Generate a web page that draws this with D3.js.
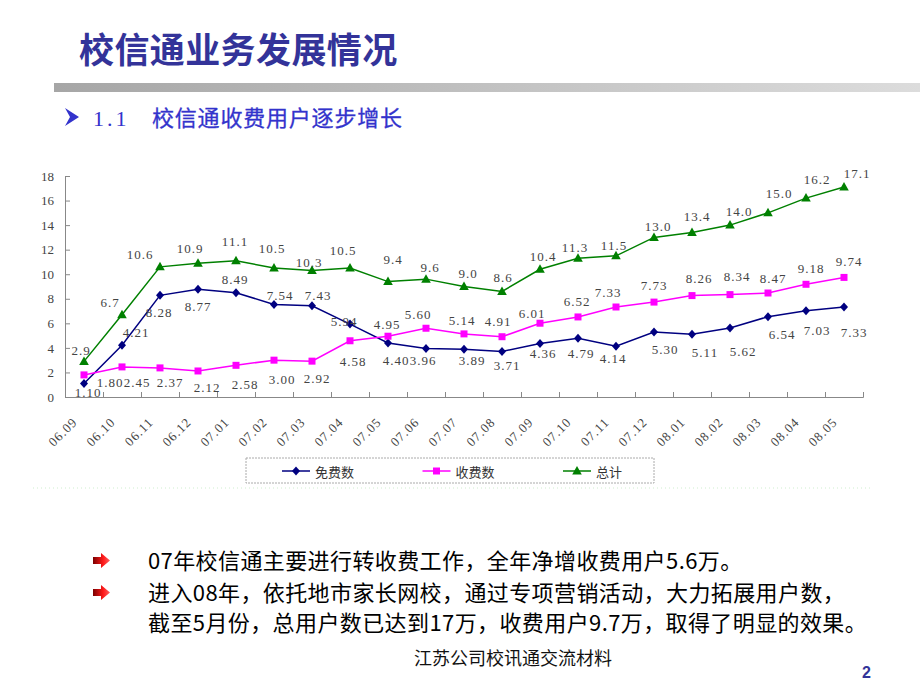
<!DOCTYPE html>
<html><head><meta charset="utf-8">
<script src="https://cdn.jsdelivr.net/npm/d3@7"></script>
<style>body{margin:0;background:#fff} svg{display:block}</style>
</head><body>
<svg id="c" width="920" height="690"></svg>
<script>
// ---------- data ----------
const categories = ["06.09","06.10","06.11","06.12","07.01","07.02","07.03","07.04","07.05","07.06","07.07","07.08","07.09","07.10","07.11","07.12","08.01","08.02","08.03","08.04","08.05"];
const freeUsers  = [1.10,4.21,8.28,8.77,8.49,7.54,7.43,5.94,4.40,3.96,3.89,3.71,4.36,4.79,4.14,5.30,5.11,5.62,6.54,7.03,7.33];
const paidUsers  = [1.80,2.45,2.37,2.12,2.58,3.00,2.92,4.58,4.95,5.60,5.14,4.91,6.01,6.52,7.33,7.73,8.26,8.34,8.47,9.18,9.74];
const totalUsers = [2.9,6.7,10.6,10.9,11.1,10.5,10.3,10.5,9.4,9.6,9.0,8.6,10.4,11.3,11.5,13.0,13.4,14.0,15.0,16.2,17.1];
const yTicks = [0,2,4,6,8,10,12,14,16,18];
const seriesNames = ["免费数","收费数","总计"];

const titleText = "校信通业务发展情况";
const subtitleNum = "1.1";
const subtitleText = "校信通收费用户逐步增长";
const bulletLines = [
  ["07年校信通主要进行转收费工作，全年净增收费用户5.6万。"],
  ["进入08年，依托地市家长网校，通过专项营销活动，大力拓展用户数，","截至5月份，总用户数已达到17万，收费用户9.7万，取得了明显的效果。"]
];
const footerText = "江苏公司校讯通交流材料";
const pageNum = "2";

// ---------- label layout (offsets of value labels from their points) ----------
const freeLabelOffsets  = [[4,9],[14,-13],[-1,17],[0,17],[-1,-13],[6,-9],[6,-10],[-6,-3],[8,18],[-3,12],[8,11],[5,14],[3,10],[3,15],[-3,12],[11,18],[13,18],[13,24],[14,18],[11,20],[10,25]];
const paidLabelOffsets  = [[26,8],[15,16],[10,15],[9,17],[9,19],[8,19],[5,17],[3,21],[-1,-12],[-8,-14],[-2,-13],[-4,-15],[-8,-10],[-1,-15],[-8,-15],[0,-17],[7,-17],[7,-18],[5,-15],[5,-16],[5,-16]];
const totalLabelOffsets = [[-3,-11],[-12,-12],[-20,-12],[-8,-15],[-1,-19],[-2,-20],[-3,-8],[-7,-18],[5,-22],[4,-12],[4,-13],[1,-14],[3,-13],[-3,-11],[-2,-10],[4,-11],[5,-16],[9,-14],[11,-19],[11,-19],[13,-14]];

// ---------- drawing ----------
const svg = d3.select("#c");
svg.append("rect").attr("width",920).attr("height",690).attr("fill","#fff");
const defs = svg.append("defs");
const g1 = defs.append("linearGradient").attr("id","bar").attr("x1","0").attr("x2","1");
g1.append("stop").attr("offset","0").attr("stop-color","#a6a6a6");
g1.append("stop").attr("offset","1").attr("stop-color","#dcdcdc");
const g2 = defs.append("linearGradient").attr("id","arrow").attr("x1","0").attr("x2","1");
g2.append("stop").attr("offset","0").attr("stop-color","#7a0000");
g2.append("stop").attr("offset","0.6").attr("stop-color","#ff1a1a");
g2.append("stop").attr("offset","1").attr("stop-color","#ff6060");

// title
svg.append("text").attr("x",79).attr("y",63).text(titleText)
  .attr("font-family","'Noto Sans CJK SC'").attr("font-weight","bold").attr("font-size",35)
  .attr("letter-spacing",0.4).attr("fill","#333399");
svg.append("rect").attr("x",54).attr("y",83).attr("width",866).attr("height",9).attr("fill","url(#bar)");

// subtitle
svg.append("path").attr("d","M65,108L79,117L65,126L70,117Z").attr("fill","#3333cc");
svg.append("text").attr("x",93).attr("y",126).text(subtitleNum)
  .attr("font-family","'Liberation Serif'").attr("font-size",22).attr("letter-spacing",3).attr("fill","#3333cc");
svg.append("text").attr("x",152).attr("y",126).text(subtitleText)
  .attr("font-family","'Noto Sans CJK SC'").attr("font-size",22).attr("letter-spacing",0.8)
  .attr("fill","#3333cc").attr("stroke","#3333cc").attr("stroke-width",0.3);

// chart
const xBand = d3.scaleBand().domain(categories).range([65,863]).paddingInner(0).paddingOuter(0);
const cx = c => xBand(c) + xBand.bandwidth()/2;
const y = d3.scaleLinear().domain([0,18]).range([397,176]);
const xEdges = d3.scaleLinear().domain([0,categories.length]).range([65,863]);

const axisColor = "#888";
const yAxis = svg.append("g").attr("transform","translate(65,0)")
  .call(d3.axisLeft(y).tickValues(yTicks).tickSize(-5).tickPadding(11).tickFormat(d3.format("d")));
const xAxis = svg.append("g").attr("transform","translate(0,397)")
  .call(d3.axisBottom(xEdges).tickValues(d3.range(0,categories.length+1)).tickSize(-5).tickFormat(""));
[yAxis,xAxis].forEach(a=>{
  a.selectAll("path,line").attr("stroke",axisColor);
  a.selectAll("text").attr("font-family","'Liberation Serif'").attr("font-size",13).attr("fill","#444");
});

// x labels
svg.append("g").selectAll("text").data(categories).join("text")
  .attr("transform",d=>`translate(${cx(d)-6},423) rotate(-45)`)
  .attr("text-anchor","end").attr("font-family","'Liberation Serif'").attr("font-size",13)
  .attr("letter-spacing",1).attr("fill","#444").text(d=>d);

const diamond = "M0,-4.5L4,0L0,4.5L-4,0Z";
const square = "M-3.5,-3.5H3.5V3.5H-3.5Z";
const triangle = "M0,-5L4.8,3.5H-4.8Z";

const series = [
  {name:seriesNames[0], values:freeUsers,  color:"#000080", shape:diamond,  fmt:d3.format(".2f"), offs:freeLabelOffsets},
  {name:seriesNames[1], values:paidUsers,  color:"#ff00ff", shape:square,   fmt:d3.format(".2f"), offs:paidLabelOffsets},
  {name:seriesNames[2], values:totalUsers, color:"#008000", shape:triangle, fmt:d3.format(".1f"), offs:totalLabelOffsets}
];
const line = d3.line().x((d,i)=>cx(categories[i])).y(d=>y(d));

series.forEach(s=>{
  const g = svg.append("g");
  g.append("path").attr("d",line(s.values)).attr("fill","none").attr("stroke",s.color).attr("stroke-width",1.5);
  g.selectAll("path.m").data(s.values).join("path").attr("class","m")
    .attr("transform",(d,i)=>`translate(${cx(categories[i])},${y(d)})`)
    .attr("d",s.shape).attr("fill",s.color);
});
series.forEach(s=>{
  svg.append("g").selectAll("text").data(s.values).join("text")
    .attr("x",(d,i)=>cx(categories[i])+s.offs[i][0])
    .attr("y",(d,i)=>y(d)+s.offs[i][1])
    .attr("text-anchor","middle").attr("dominant-baseline","central")
    .attr("font-family","'Liberation Serif'").attr("font-size",13).attr("letter-spacing",1)
    .attr("fill","#444").text(d=>s.fmt(d));
});

// legend
const lg = svg.append("g");
lg.append("rect").attr("x",246).attr("y",458).attr("width",408).attr("height",25)
  .attr("fill","#fff").attr("stroke","#aaa").attr("stroke-dasharray","2,1");
series.forEach((s,i)=>{
  const x0 = 282 + i*140.5, yy = 471;
  lg.append("line").attr("x1",x0).attr("x2",x0+28).attr("y1",yy).attr("y2",yy).attr("stroke",s.color).attr("stroke-width",1.5);
  lg.append("path").attr("transform",`translate(${x0+14},${yy})`).attr("d",s.shape).attr("fill",s.color);
  lg.append("text").attr("x",x0+33).attr("y",yy).attr("dominant-baseline","central")
    .attr("font-family","'Noto Sans CJK SC'").attr("font-size",13).attr("fill","#333").text(s.name);
});
// faint chart-area edge
svg.append("line").attr("x1",33).attr("x2",873).attr("y1",488).attr("y2",488)
  .attr("stroke","#cfeecf").attr("stroke-dasharray","1,3");

// bullets and text
const baselines = [[569],[601,631]];
bulletLines.forEach((lines,bi)=>{
  const by = baselines[bi][0];
  svg.append("path").attr("d",`M93,${by-12}H101V${by-16}L110,${by-8.5}L101,${by-1}V${by-5}H93Z`).attr("fill","url(#arrow)");
  lines.forEach((t,li)=>{
    svg.append("text").attr("x",148).attr("y",baselines[bi][li]).text(t)
      .attr("font-family","'Noto Sans CJK SC'").attr("font-size",22).attr("letter-spacing",0.4).attr("fill","#000");
  });
});
svg.append("text").attr("x",513).attr("y",665).attr("text-anchor","middle").text(footerText)
  .attr("font-family","'Noto Sans CJK SC'").attr("font-size",18).attr("fill","#111");
svg.append("text").attr("x",862).attr("y",678).text(pageNum)
  .attr("font-family","'Liberation Sans'").attr("font-weight","bold").attr("font-size",16).attr("fill","#333399");
</script>
</body></html>
